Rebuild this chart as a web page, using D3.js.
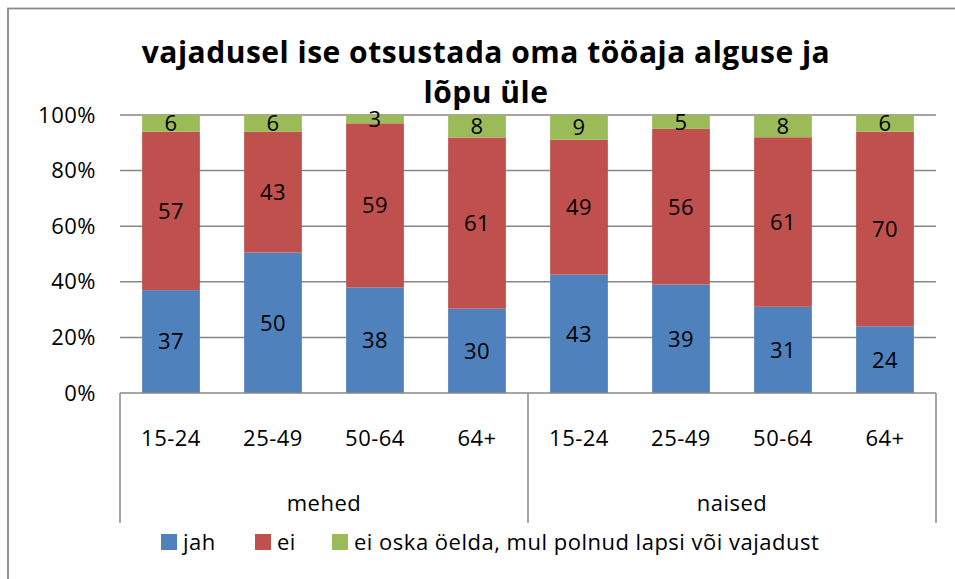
<!DOCTYPE html>
<html>
<head>
<meta charset="utf-8">
<script src="https://cdn.jsdelivr.net/npm/d3@7"></script>
<style>
  html, body { margin: 0; padding: 0; background: #fff; }
  svg { display: block; }
  text { font-family: "Open Sans", Lato, sans-serif; fill: #000; letter-spacing: 0.5px; }
</style>
</head>
<body>
<svg id="chart" width="955" height="579"></svg>
<script>
// Survey answers by sex and age group (percent)
const groups = ["mehed", "naised"];
const ageGroups = ["15-24", "25-49", "50-64", "64+"];
const seriesNames = ["jah", "ei", "ei oska öelda, mul polnud lapsi või vajadust"];
const seriesColors = ["#4F81BD", "#C0504D", "#9BBB59"];
const jah = [37, 50, 38, 30, 43, 39, 31, 24];
const ei = [57, 43, 59, 61, 49, 56, 61, 70];
const eiOska = [6, 6, 3, 8, 9, 5, 8, 6];
const yTicks = [0, 0.2, 0.4, 0.6, 0.8, 1];
const titleLines = ["vajadusel ise otsustada oma tööaja alguse ja", "lõpu üle"];

const rows = [];
groups.forEach((g, gi) => ageGroups.forEach((a, ai) => {
  const i = gi * ageGroups.length + ai;
  rows.push({ key: g + "|" + a, group: g, age: a, jah: jah[i], ei: ei[i], eiOska: eiOska[i] });
}));
const keys = ["jah", "ei", "eiOska"];
const fs = 22;

const svg = d3.select("#chart");

// outer chart frame
svg.append("rect").attr("x", 8).attr("y", 8.5).attr("width", 960).attr("height", 600)
  .attr("fill", "none").attr("stroke", "#8a8a8a").attr("stroke-width", 1.8);

const plot = { left: 120, right: 936, top: 115, bottom: 393 };

const x = d3.scaleBand().domain(rows.map(r => r.key))
  .range([plot.left, plot.right]).paddingInner(0.434).paddingOuter(0.217);
const y = d3.scaleLinear().domain([0, 1]).range([plot.bottom, plot.top]);

// gridlines
svg.append("g").selectAll("line").data(yTicks.filter(t => t > 0)).join("line")
  .attr("x1", plot.left).attr("x2", plot.right)
  .attr("y1", d => y(d)).attr("y2", d => y(d))
  .attr("stroke", "#878787").attr("stroke-width", 1.5);

// y axis labels
const yAxis = d3.axisLeft(y).tickValues(yTicks).tickFormat(d3.format(".0%")).tickSize(0).tickPadding(24);
const yg = svg.append("g").attr("transform", `translate(${plot.left},0)`).call(yAxis);
yg.select(".domain").remove();
yg.selectAll("text").attr("font-size", fs).attr("font-family", "'Open Sans', sans-serif").attr("fill", "#000");

// stacked bars, normalised to 100%
const stack = d3.stack().keys(keys).offset(d3.stackOffsetExpand);
const layers = stack(rows);

const lg = svg.append("g").selectAll("g").data(layers).join("g")
  .attr("fill", (d, i) => seriesColors[i]);
lg.selectAll("rect").data(d => d).join("rect")
  .attr("x", d => x(d.data.key))
  .attr("width", x.bandwidth())
  .attr("y", d => y(d[1]))
  .attr("height", d => y(d[0]) - y(d[1]));

// value labels
layers.forEach(layer => {
  svg.append("g").selectAll("text").data(layer).join("text")
    .attr("x", d => x(d.data.key) + x.bandwidth() / 2)
    .attr("y", d => (y(d[0]) + y(d[1])) / 2)
    .attr("dy", "0.36em")
    .attr("text-anchor", "middle")
    .attr("font-size", fs)
    .text(d => d.data[layer.key]);
});

// category axis: baseline and group separators
const axisG = svg.append("g").attr("stroke", "#878787").attr("stroke-width", 1.5);
axisG.append("line").attr("x1", plot.left).attr("x2", plot.right)
  .attr("y1", plot.bottom).attr("y2", plot.bottom);
const sepX = [plot.left, x(rows[ageGroups.length].key) - x.step() * x.paddingInner() / 2, plot.right];
axisG.selectAll(".sep").data(sepX).join("line")
  .attr("x1", d => d).attr("x2", d => d)
  .attr("y1", plot.bottom).attr("y2", 523);

// age labels
svg.append("g").selectAll("text").data(rows).join("text")
  .attr("x", d => x(d.key) + x.bandwidth() / 2)
  .attr("y", 438).attr("dy", "0.36em")
  .attr("text-anchor", "middle").attr("font-size", fs)
  .text(d => d.age);

// group labels
svg.append("g").selectAll("text").data(groups).join("text")
  .attr("x", (g, i) => (sepX[i] + sepX[i + 1]) / 2)
  .attr("y", 503).attr("dy", "0.36em")
  .attr("text-anchor", "middle").attr("font-size", fs)
  .text(d => d);

// title
svg.append("text").attr("x", 486).attr("y", 63).attr("text-anchor", "middle")
  .attr("font-size", 30).attr("font-weight", "bold")
  .selectAll("tspan").data(titleLines).join("tspan")
  .attr("x", 486).attr("dy", (d, i) => i === 0 ? 0 : 40)
  .text(d => d);

// legend
const legendX = [161, 255, 332];
const leg = svg.append("g").selectAll("g").data(seriesNames).join("g")
  .attr("transform", (d, i) => `translate(${legendX[i]},534)`);
leg.append("rect").attr("width", 16).attr("height", 16).attr("fill", (d, i) => seriesColors[i]);
leg.append("text").attr("x", 22).attr("y", 8).attr("dy", "0.36em")
  .attr("font-size", fs).text(d => d);
</script>
</body>
</html>
